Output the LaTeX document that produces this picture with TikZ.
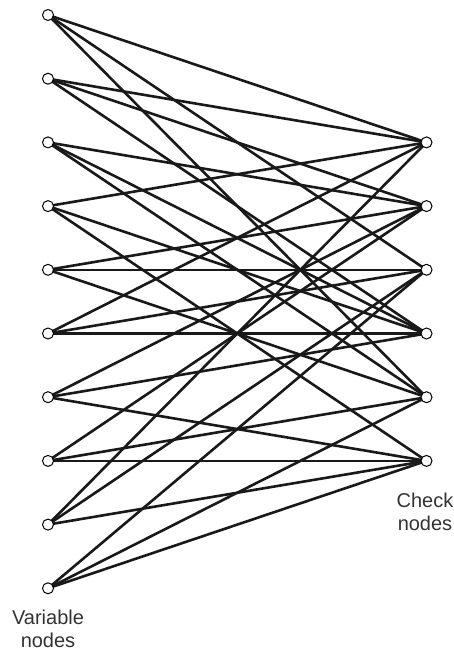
\documentclass[tikz,border=0pt]{standalone}
\usepackage{fontspec}
\setmainfont{Liberation Sans}
\begin{document}
\begin{tikzpicture}[x=1pt,y=-1pt,
  vnode/.style={circle,draw=black,fill=white,line width=1pt,inner sep=0pt,minimum size=11pt},
  edgeline/.style={line width=2.6pt,black!90},
  lbl/.style={align=center,text=black!80,font=\fontsize{20}{23}\selectfont}]
\useasboundingbox (0,0) rectangle (453,653);
\foreach \i in {1,...,10} {
  \coordinate (pv\i) at (48,{15+63.7*(\i-1)});
}
\foreach \j in {1,...,6} {
  \coordinate (pc\j) at (426.5,{142.4+63.7*(\j-1)});
}
% edges (parity-check matrix rows)
\foreach \j/\vs in {1/{1,2,4,6,9},2/{2,3,5,7,8},3/{1,5,6,9,10},4/{2,3,4,6,7},5/{1,3,5,8,10},6/{4,7,8,9,10}} {
  \foreach \i in \vs {
    \draw[edgeline] (pv\i) -- (pc\j);
  }
}
\foreach \i in {1,...,10} {
  \node[vnode] (v\i) at (pv\i) {};
}
\foreach \j in {1,...,6} {
  \node[vnode] (c\j) at (pc\j) {};
}
\node[lbl] (vlabel) at (48,629) {Variable\\nodes};
\node[lbl] (clabel) at (425,512) {Check\\nodes};
\end{tikzpicture}
\end{document}
